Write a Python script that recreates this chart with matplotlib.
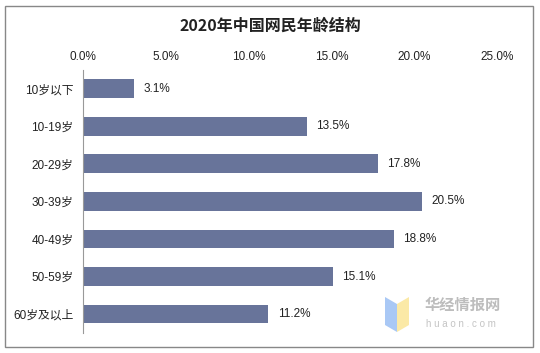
import matplotlib
matplotlib.use("Agg")
import matplotlib.pyplot as plt
from matplotlib.patches import Rectangle, Polygon
from matplotlib.ticker import FuncFormatter

plt.rcParams['font.family'] = ['Liberation Sans', 'Noto Sans CJK SC', 'DejaVu Sans']

categories = ['10岁以下', '10-19岁', '20-29岁', '30-39岁', '40-49岁', '50-59岁', '60岁及以上']
values = [3.1, 13.5, 17.8, 20.5, 18.8, 15.1, 11.2]
xticks = [0, 5, 10, 15, 20, 25]
title = '2020年中国网民年龄结构'

fig = plt.figure(figsize=(5.4, 3.53), dpi=100)
ax = fig.add_axes([0.1537, 0.057, 0.7667, 0.745])

ypos = list(range(len(categories)))
ax.barh(ypos, values, height=0.5, color='#68749A')
for y, v in zip(ypos, values):
    ax.text(v + 0.55, y, f'{v:.1f}%', va='center', ha='left', fontsize=8.5, color='#222222')

ax.set_ylim(len(categories) - 0.5, -0.5)
ax.set_yticks(ypos)
ax.set_yticklabels(categories, fontsize=8.5, color='#222222')
ax.set_xlim(0, 25)
ax.set_xticks(xticks)
ax.xaxis.set_major_formatter(FuncFormatter(lambda x, p: f'{x:.1f}%'))
ax.xaxis.tick_top()
ax.tick_params(axis='x', length=0, labelsize=8.5, labelcolor='#222222', pad=5)
ax.tick_params(axis='y', length=0, pad=7)

for s in ['top', 'right', 'bottom']:
    ax.spines[s].set_visible(False)
ax.spines['left'].set_color('#999999')
ax.spines['left'].set_linewidth(0.8)

fig.text(0.5, 0.927, title, ha='center', va='center', fontsize=11.5, fontweight='bold',
         color='#222222', family=['Noto Sans CJK SC'])

# outer frame
fig.patches.append(Rectangle((5 / 540, 6 / 353), 528 / 540, 341 / 353, transform=fig.transFigure,
                             fill=False, edgecolor='#888888', linewidth=1))

# watermark
fig.patches.append(Polygon([(385 / 540, 1 - 297 / 353), (397 / 540, 1 - 304 / 353),
                            (397 / 540, 1 - 332 / 353), (385 / 540, 1 - 325 / 353)],
                           closed=True, transform=fig.transFigure, facecolor='#a9c8f5', edgecolor='none'))
fig.patches.append(Polygon([(397 / 540, 1 - 304 / 353), (409 / 540, 1 - 297 / 353),
                            (409 / 540, 1 - 325 / 353), (397 / 540, 1 - 332 / 353)],
                           closed=True, transform=fig.transFigure, facecolor='#fbe9a6', edgecolor='none'))
fig.text(425 / 540, 1 - 305 / 353, '华经情报网', fontsize=11, color='#bdbdbd', va='center', ha='left',
         fontweight='bold', family=['Noto Sans CJK SC'])
fig.text(426 / 540, 1 - 324 / 353, 'h u a o n . c o m', fontsize=7, color='#c4c4c4', va='center', ha='left')

fig.savefig('out.png', dpi=100, facecolor='white')
